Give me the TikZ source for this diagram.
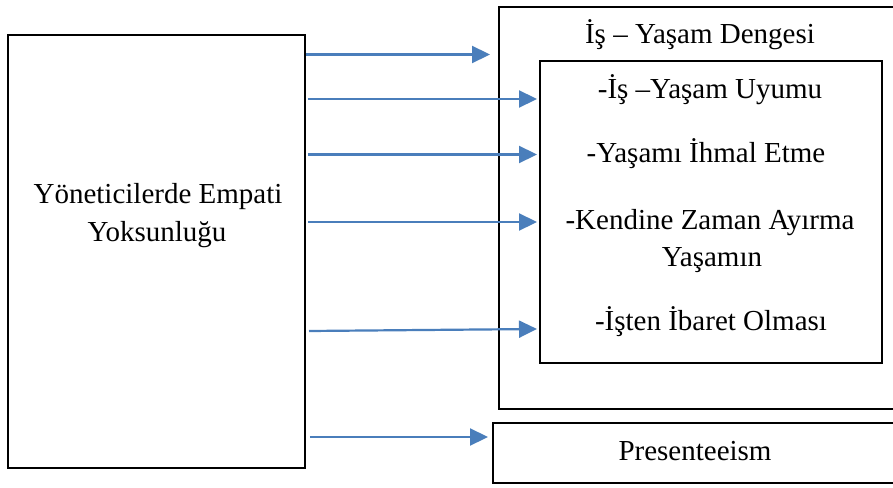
\documentclass[tikz,border=0pt]{standalone}
\usepackage{fontspec}
\setmainfont{Liberation Serif}
\usetikzlibrary{arrows.meta}
\definecolor{arrblue}{RGB}{74,126,187}
\begin{document}
\begin{tikzpicture}[x=1pt,y=1pt,
  box/.style={draw=black, line width=1.5pt, rectangle, inner sep=0pt},
  lbl/.style={anchor=base, inner sep=0pt, font=\fontsize{29}{35}\selectfont},
  arr/.style={draw=arrblue, line width=2.2pt, -{Triangle[length=18pt,width=17pt]}}]
\useasboundingbox (0,0) rectangle (893,-487);
% boxes
\node[box, minimum width=297pt, minimum height=433pt] (L) at (156.5,-251.5) {};
\node[box, minimum width=395pt, minimum height=402pt] (O) at (696.5,-208) {};
\node[box, minimum width=342pt, minimum height=302pt] (I) at (711,-212) {};
\node[box, minimum width=401pt, minimum height=60pt] (P) at (693.5,-453) {};
% texts
\node[lbl] (t1) at (158,-203) {Yöneticilerde Empati};
\node[lbl] (t2) at (157,-241) {Yoksunluğu};
\node[lbl] (t3) at (700,-44) {İş – Yaşam Dengesi};
\node[lbl] (t4) at (710,-98) {-İş –Yaşam Uyumu};
\node[lbl] (t5) at (706,-162) {-Yaşamı İhmal Etme};
\node[lbl] (t6) at (710,-229) {-Kendine Zaman Ayırma};
\node[lbl] (t7) at (712,-266) {Yaşamın};
\node[lbl] (t8) at (711,-330) {-İşten İbaret Olması};
\node[lbl] (t9) at (695,-460) {Presenteeism};
% arrow end points
\coordinate (e1) at (490,-54.5);
\coordinate (e2) at (537,-99);
\coordinate (e3) at (537,-154.5);
\coordinate (e4) at (537,-222);
\coordinate (e5) at (537,-329);
\coordinate (e6) at (488,-437);
\coordinate (s5) at (309,-331);
% arrows
\draw[arr] (L.east |- e1) -- (e1);
\draw[arr] ([xshift=2pt]L.east |- e2) -- (e2);
\draw[arr] ([xshift=2pt]L.east |- e3) -- (e3);
\draw[arr] ([xshift=2pt]L.east |- e4) -- (e4);
\draw[arr] (s5) -- (e5);
\draw[arr] ([xshift=4pt]L.east |- e6) -- (e6);
\end{tikzpicture}
\end{document}
